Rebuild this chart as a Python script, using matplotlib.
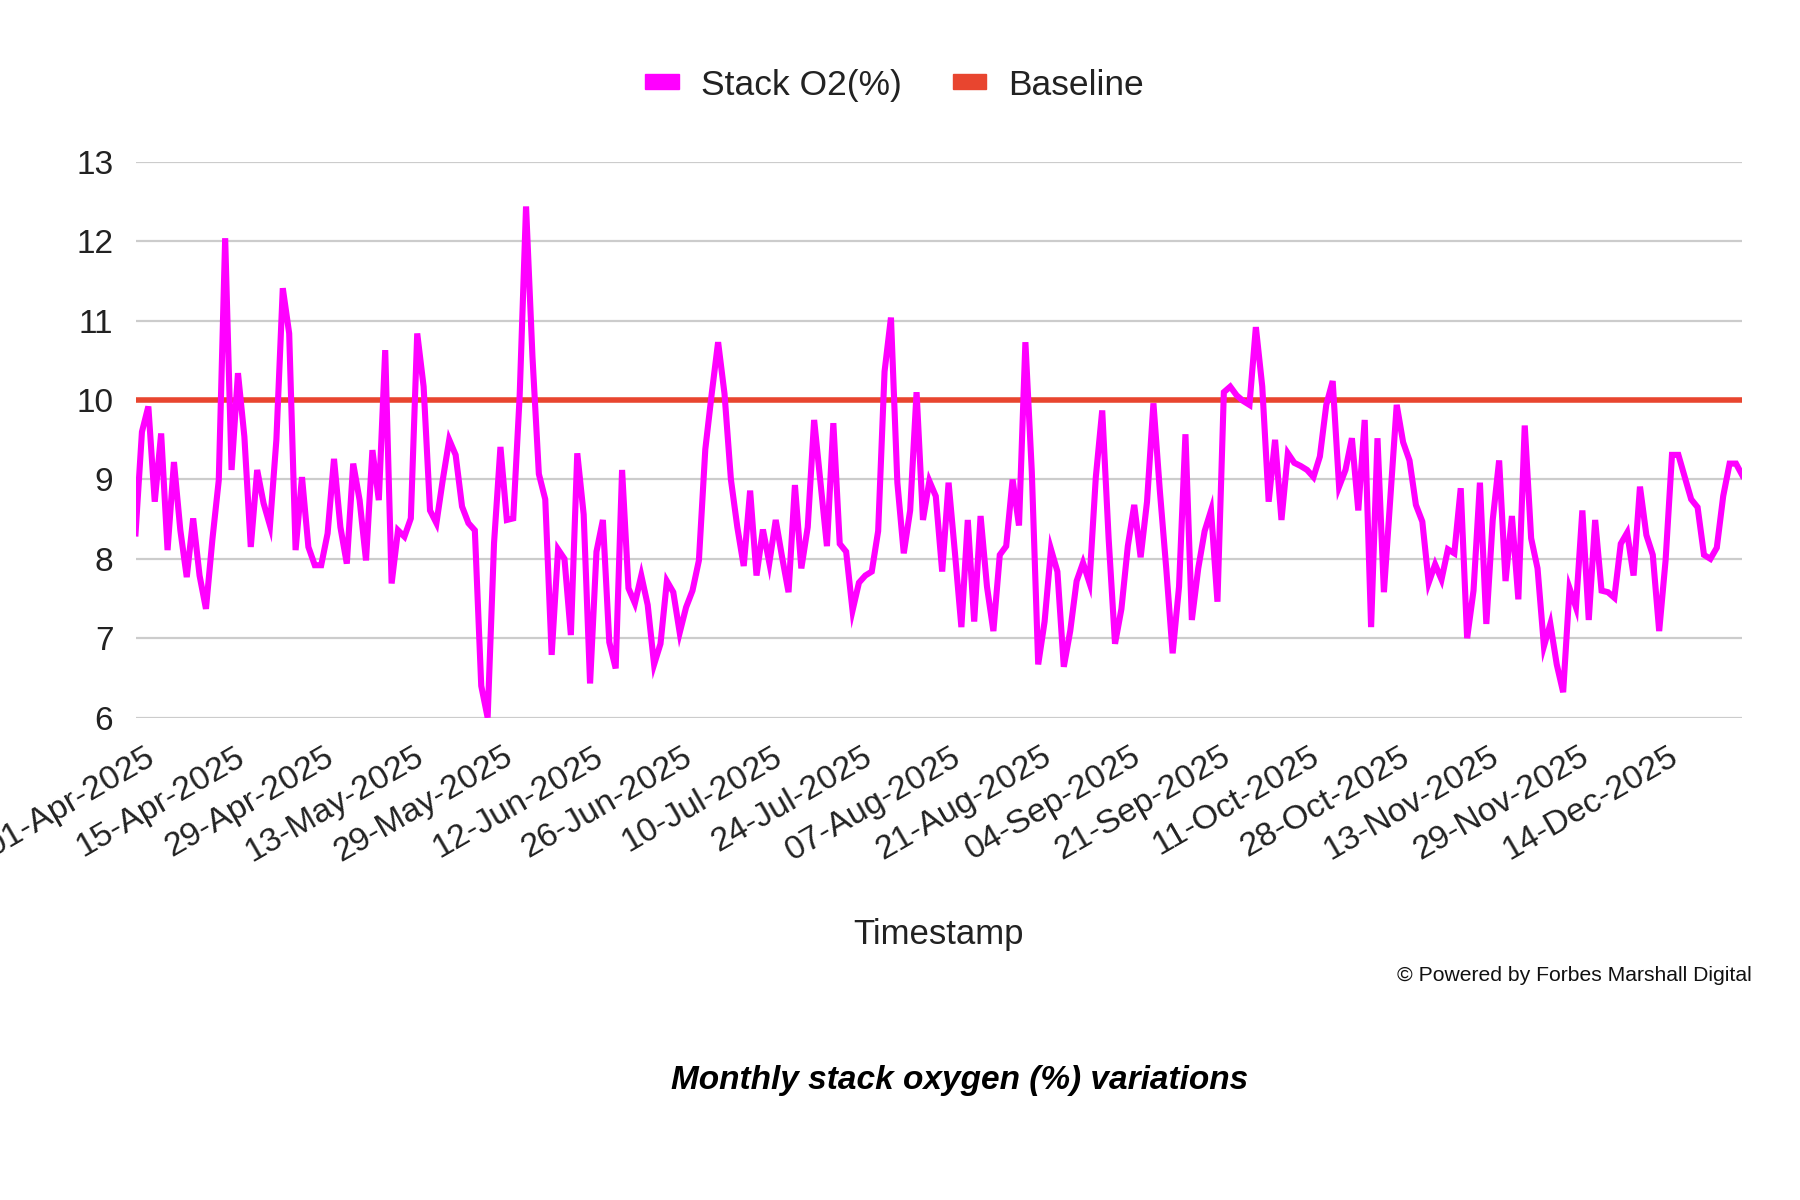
import matplotlib
matplotlib.use('Agg')
import matplotlib.pyplot as plt
import matplotlib.patches as mpatches
import matplotlib.transforms as mtransforms
import pandas as pd

plt.rcParams['font.family'] = ['Liberation Sans', 'DejaVu Sans']

# readings are not daily: these dates have no record
missing_days = ['2025-05-20', '2025-05-21',
                '2025-09-13', '2025-09-14', '2025-09-15',
                '2025-09-27', '2025-09-28', '2025-10-01', '2025-10-02', '2025-10-03', '2025-10-05',
                '2025-10-18', '2025-10-19', '2025-10-21',
                '2025-11-01', '2025-11-02',
                '2025-11-22', '2025-11-23',
                '2025-12-07']
first_day = '2025-04-01'
last_day = '2025-12-27'

stack_o2 = [
    8.32, 9.60, 9.92, 8.72, 9.58, 8.11, 9.22, 8.36, 7.77, 8.51,
    7.79, 7.37, 8.24, 8.99, 12.04, 9.12, 10.34, 9.54, 8.15, 9.12,
    8.70, 8.42, 9.50, 11.41, 10.84, 8.11, 9.03, 8.15, 7.92, 7.92,
    8.32, 9.26, 8.40, 7.94, 9.20, 8.74, 7.98, 9.37, 8.74, 10.63,
    7.69, 8.36, 8.28, 8.51, 10.84, 10.17, 8.61, 8.45, 9.00, 9.50,
    9.31, 8.66, 8.45, 8.36, 6.40, 6.00, 8.20, 9.41, 8.49, 8.51,
    10.05, 12.44, 10.55, 9.07, 8.75, 6.79, 8.12, 8.00, 7.04, 9.33,
    8.56, 6.43, 8.09, 8.49, 6.95, 6.62, 9.12, 7.63, 7.44, 7.79,
    7.42, 6.67, 6.93, 7.72, 7.58, 7.07, 7.39, 7.60, 7.98, 9.38,
    10.08, 10.73, 10.08, 9.00, 8.40, 7.91, 8.86, 7.79, 8.37, 7.95,
    8.49, 8.02, 7.58, 8.93, 7.88, 8.40, 9.75, 8.96, 8.16, 9.71,
    8.19, 8.09, 7.35, 7.70, 7.79, 7.84, 8.35, 10.36, 11.04, 8.96,
    8.07, 8.61, 10.10, 8.49, 8.98, 8.79, 7.84, 8.96, 8.07, 7.14,
    8.49, 7.21, 8.54, 7.65, 7.09, 8.05, 8.16, 9.00, 8.42, 10.73,
    9.10, 6.67, 7.21, 8.12, 7.84, 6.64, 7.09, 7.72, 7.95, 7.70,
    9.03, 9.87, 8.26, 6.93, 7.37, 8.16, 8.68, 8.02, 8.72, 9.96,
    8.86, 7.88, 6.81, 7.65, 9.57, 7.23, 7.88, 8.35, 8.61, 7.46,
    10.10, 10.17, 10.06, 9.99, 9.94, 10.92, 10.17, 8.72, 9.50, 8.49,
    9.33, 9.21, 9.17, 9.12, 9.03, 9.29, 9.94, 10.24, 8.91, 9.12,
    9.52, 8.61, 9.75, 7.14, 9.52, 7.58, 8.77, 9.94, 9.47, 9.24,
    8.68, 8.47, 7.70, 7.93, 7.74, 8.12, 8.07, 8.89, 7.00, 7.60,
    8.96, 7.18, 8.49, 9.24, 7.72, 8.54, 7.49, 9.68, 8.26, 7.88,
    6.90, 7.18, 6.67, 6.32, 7.63, 7.39, 8.61, 7.23, 8.49, 7.60,
    7.58, 7.51, 8.19, 8.33, 7.79, 8.91, 8.30, 8.05, 7.09, 7.98,
    9.31, 9.31, 9.03, 8.75, 8.65, 8.05, 8.00, 8.14, 8.79, 9.20,
    9.20, 9.05,
]
baseline = 10.0
label_every = 14

dates = pd.date_range(first_day, last_day, freq='D')
dates = dates[~dates.isin(pd.to_datetime(missing_days))]
x = list(range(len(stack_o2)))

fig = plt.figure(figsize=(18, 12), dpi=100)
ax = fig.add_axes([0.0753, 0.402, 0.8927, 0.463])

ax.plot(x, stack_o2, color='#FF00FF', lw=4.4, solid_joinstyle='miter', zorder=3)
ax.plot(x, [baseline] * len(x), color='#E8452F', lw=4.0, zorder=2)

ax.set_xlim(0, len(x) - 1)
ax.set_ylim(6, 13)
ax.set_yticks(range(6, 14))
ax.grid(axis='y', color='#CCCCCC', lw=1.6)
ax.set_axisbelow(True)
for s in ax.spines.values():
    s.set_visible(False)
ax.tick_params(length=0, labelsize=24, colors='#222222')
ax.tick_params(axis='y', pad=16)
ax.tick_params(axis='x', pad=17)

ticks = x[::label_every]
ax.set_xticks(ticks)
ax.set_xticklabels([dates[i].strftime('%d-%b-%Y') for i in ticks],
                   rotation=30, ha='right', va='top', rotation_mode='anchor', fontsize=24.5)
# labels end a little to the right of their point, as in the original
shift = mtransforms.ScaledTranslation(0.09, 0.0, fig.dpi_scale_trans)
for t in ax.xaxis.get_major_ticks():
    t.label1.set_transform(t.label1.get_transform() + shift)

ax.set_xlabel('Timestamp', fontsize=25, color='#222222', labelpad=36)

handles = [mpatches.Patch(color='#FF00FF', label='Stack O2(%)'),
           mpatches.Patch(color='#E8452F', label='Baseline')]
fig.legend(handles=handles, loc='center', bbox_to_anchor=(0.497, 0.929), ncol=2,
           frameon=False, fontsize=25.5, handlelength=0.95, handleheight=0.28,
           handletextpad=0.62, columnspacing=1.45, labelcolor='#222222')

fig.text(0.973, 0.187, '\u00a9 Powered by Forbes Marshall Digital', ha='right', va='center',
         fontsize=15.2, color='#111111')
fig.text(0.533, 0.1, 'Monthly stack oxygen (%) variations', ha='center', va='center',
         fontsize=24, fontweight='bold', fontstyle='italic', color='black')

fig.savefig('out.png', dpi=100, facecolor='white')
